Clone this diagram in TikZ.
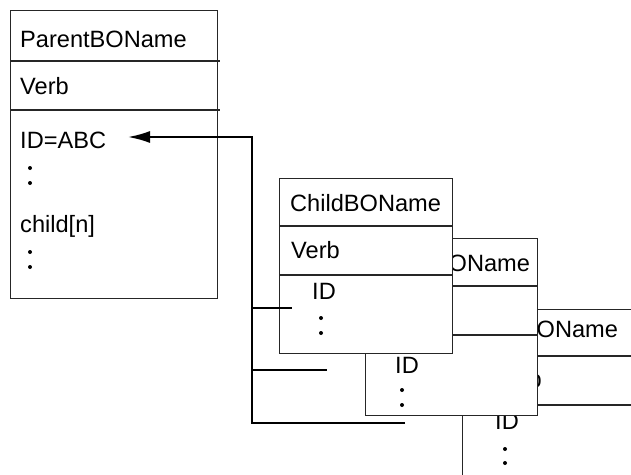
\documentclass[tikz,border=0pt]{standalone}
\usepackage{fontspec}
\setmainfont{Liberation Sans}
\usetikzlibrary{arrows.meta}
\begin{document}
\begin{tikzpicture}[x=1pt,y=-1pt,
  boxline/.style={draw=black!85, line width=1.1pt},
  boxfill/.style={boxline, fill=white, inner sep=0pt, anchor=north west},
  lbl/.style={inner sep=0pt, anchor=base west, font=\fontsize{23.6}{27}\selectfont},
  dotmark/.style={circle, fill=black, inner sep=0pt, minimum size=4pt},
  conn/.style={draw=black, line width=2pt, line join=miter},
]
\clip (0,0) rectangle (631,474);
\fill[white] (0,0) rectangle (631,474);

% Box 3 (back)
\node[boxfill, minimum width=260pt, minimum height=220pt] (b3) at (462,309) {};
\draw[boxline] (462,356) -- (720,356);
\draw[boxline] (462,405) -- (720,405);
\node[lbl] (b3name) at (467,337) {ChildBOName};
\node[lbl] (b3verb) at (493,387) {Verb};
\node[lbl] (b3id) at (495,429) {ID};
\node[dotmark] (b3d1) at (505,449) {};
\node[dotmark] (b3d2) at (505,463) {};

% Box 2 (middle)
\node[boxfill, minimum width=172pt, minimum height=177pt] (b2) at (365,238) {};
\draw[boxline] (365,286) -- (537,286);
\draw[boxline] (365,335) -- (537,335);
\node[lbl] (b2name) at (379,271) {ChildBOName};
\node[lbl] (b2verb) at (377,318) {Verb};
\node[lbl] (b2id) at (395,373) {ID};
\node[dotmark] (b2d1) at (402,390) {};
\node[dotmark] (b2d2) at (402,405) {};

% Box 1 (front)
\node[boxfill, minimum width=173pt, minimum height=175pt] (b1) at (279,178) {};
\draw[boxline] (279,226) -- (452,226);
\draw[boxline] (279,275) -- (452,275);
\node[lbl] (b1name) at (290,211) {ChildBOName};
\node[lbl] (b1verb) at (291,258) {Verb};
\node[lbl] (b1id) at (312,299) {ID};
\node[dotmark] (b1d1) at (321,318) {};
\node[dotmark] (b1d2) at (321,333) {};

% Parent box
\node[boxfill, minimum width=207pt, minimum height=288pt] (parent) at (10,10) {};
\draw[boxline] (10,61) -- (220,61);
\draw[boxline] (10,110) -- (220,110);
\node[lbl] (pname) at (20,47) {ParentBOName};
\node[lbl] (pverb) at (20,94) {Verb};
\node[lbl] (pid) at (20,148) {ID=ABC};
\node[dotmark] (pd1) at (30,168) {};
\node[dotmark] (pd2) at (30,183) {};
\node[lbl] (pchild) at (20,232) {child[n]};
\node[dotmark] (pd3) at (30,252) {};
\node[dotmark] (pd4) at (30,267) {};

% Connectors
\coordinate (tip) at (128,137);
\coordinate (j0) at (252,137);
\coordinate (j1) at (252,308);
\coordinate (e1) at (292,308);
\coordinate (j2) at (252,370);
\coordinate (e2) at (327,370);
\coordinate (j3) at (252,423);
\coordinate (e3) at (405,423);
\draw[conn, -{Latex[length=22pt,width=12pt]}] (e3) -- (j3) -- (j0) -- (tip);
\draw[conn] (j1) -- (e1);
\draw[conn] (j2) -- (e2);
\end{tikzpicture}
\end{document}
